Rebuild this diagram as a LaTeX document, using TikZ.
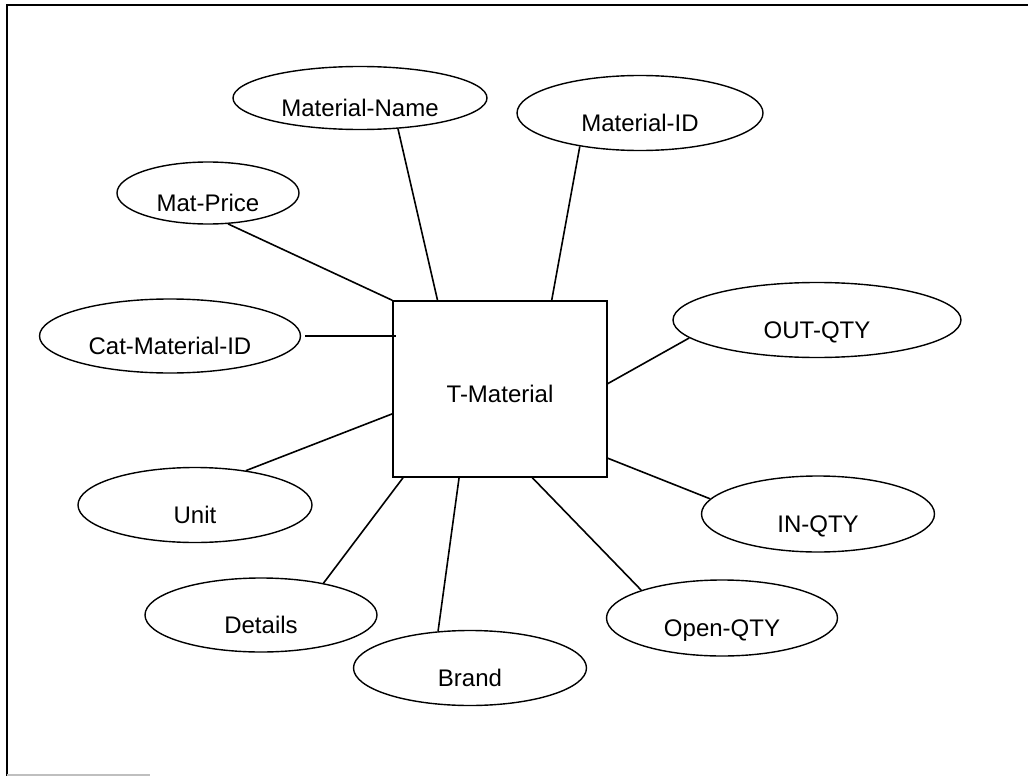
\documentclass[tikz,border=0pt]{standalone}
\usepackage{fontspec}
\setmainfont{Liberation Sans}
\usetikzlibrary{shapes.geometric,calc}
\tikzset{
  attr/.style={draw, ellipse, line width=1.4pt, inner sep=0pt,
    text height=36pt, text depth=0pt, font=\fontsize{24}{28}\selectfont},
  entity/.style={draw, rectangle, line width=1.4pt, inner sep=0pt,
    minimum width=214pt, minimum height=176pt,
    text height=26pt, text depth=0pt, font=\fontsize{24}{28}\selectfont},
  link/.style={line width=1.6pt},
  frame/.style={line width=2.2pt}
}
\begin{document}
\begin{tikzpicture}[x=1pt,y=-1pt]
\useasboundingbox (0,0) rectangle (1028,776);
% frame
\draw[frame] (7,776) -- (7,5) -- (1028,5);
\draw[line width=1.5pt, black!25] (7,775) -- (150,775);
% entity
\node[entity] (box) at (500,389) {T-Material};
% attributes
\node[attr, minimum width=254pt, minimum height=63pt] (mname) at (360,98) {Material-Name};
\node[attr, minimum width=246pt, minimum height=75pt] (mid) at (640,113) {Material-ID};
\node[attr, minimum width=182pt, minimum height=62pt] (mprice) at (208,193) {Mat-Price};
\node[attr, minimum width=261pt, minimum height=74pt] (cat) at (170,336) {Cat-Material-ID};
\node[attr, minimum width=288pt, minimum height=75pt] (outq) at (817,320) {OUT-QTY};
\node[attr, minimum width=234pt, minimum height=75pt] (unit) at (195,505) {Unit};
\node[attr, minimum width=232pt, minimum height=74pt] (details) at (261,615) {Details};
\node[attr, minimum width=233pt, minimum height=75pt] (brand) at (470,668) {Brand};
\node[attr, minimum width=231pt, minimum height=76pt] (openq) at (722,618) {Open-QTY};
\node[attr, minimum width=233pt, minimum height=76pt] (inq) at (818,514) {IN-QTY};
% connectors
\draw[link] (mprice.-57) -- (box.north west);
\draw[link] (mname.-39) -- ($(box.north west)!0.21!(box.north east)$);
\draw[link] (mid.209.5) -- ($(box.north west)!0.74!(box.north east)$);
\draw[link] ([xshift=4pt]cat.east) -- ([xshift=4pt]cat.east -| box.west);
\draw[link] (unit.34) -- ($(box.north west)!0.64!(box.south west)$);
\draw[link] (details.27) -- ($(box.south west)!0.05!(box.south east)$);
\draw[link] (brand.131) -- ($(box.south west)!0.31!(box.south east)$);
\draw[link] (openq.161) -- ($(box.south west)!0.65!(box.south east)$);
\draw[link] (inq.172) -- ($(box.north east)!0.89!(box.south east)$);
\draw[link] (outq.188) -- ($(box.north east)!0.47!(box.south east)$);
\end{tikzpicture}
\end{document}
